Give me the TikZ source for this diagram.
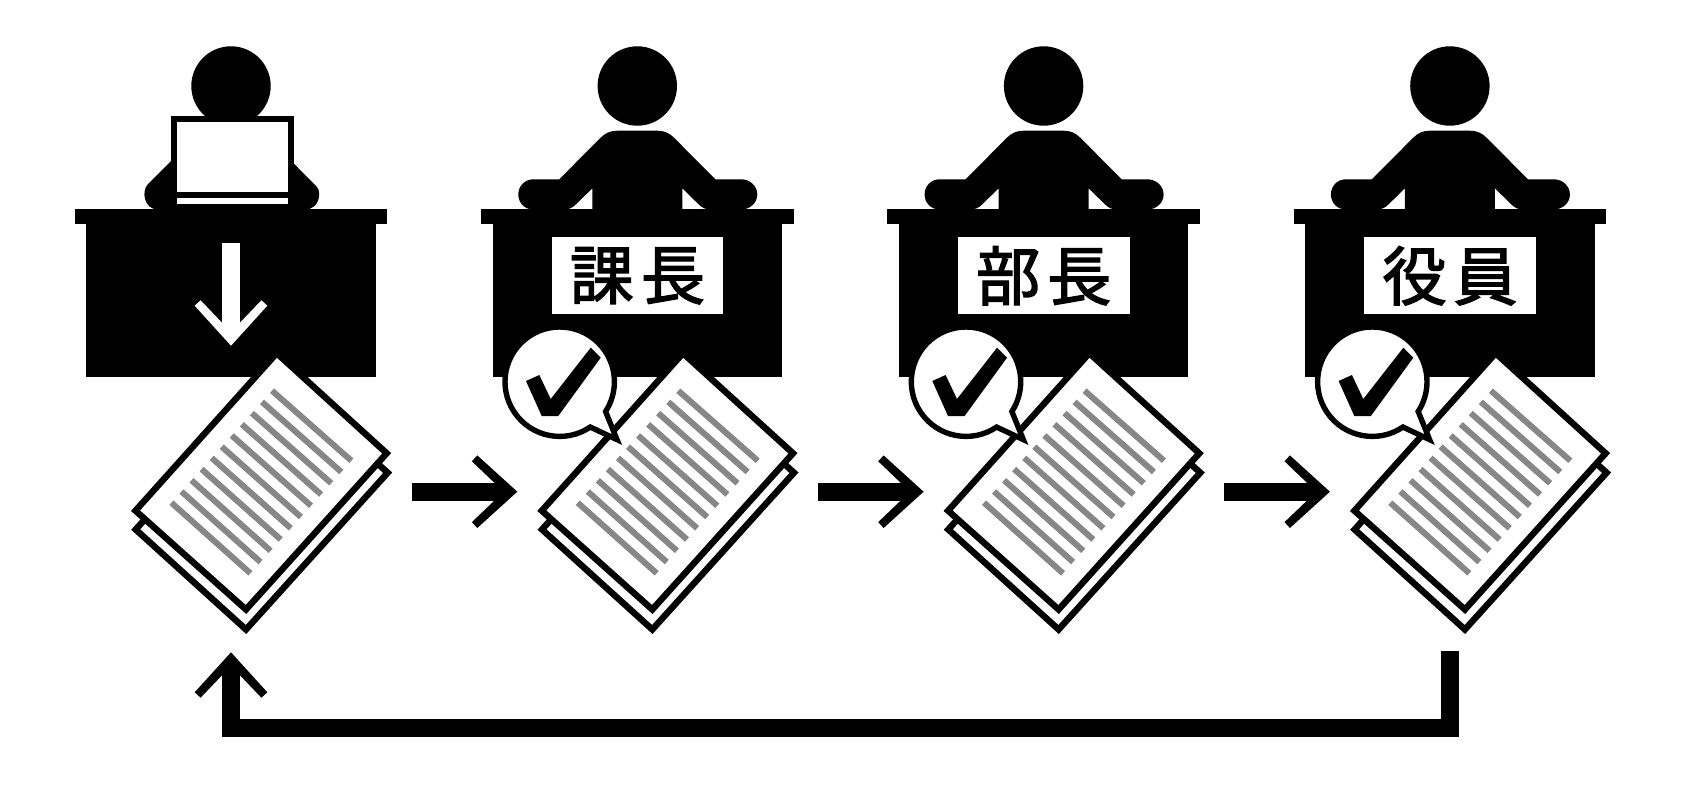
\documentclass[tikz,border=0pt]{standalone}
\usepackage{fontspec}
\newfontfamily\cjk{Noto Sans CJK JP}[FakeBold=2.2]
\tikzset{
  ink/.style={fill=black,draw=none},
  sheet/.style={draw=black,fill=white,line width=6.4pt,miter limit=10,line join=miter},
  textline/.style={draw=black!47,line width=6pt},
  flow/.style={draw=black,line width=18pt,line join=miter,shorten >=15pt},
  head/.style={circle,fill=black,minimum size=79.4pt,inner sep=0pt,outer sep=0pt},
  title/.style={fill=white,minimum width=171.7pt,minimum height=77pt,inner sep=0pt,outer sep=0pt,font=\cjk\fontsize{64}{64}\selectfont,text=black},
  bubble/.style={draw=black,fill=white,line width=5.4pt,miter limit=10,line join=miter},
}
\newcommand{\barbhead}[3]{\fill[#3,shift={(#1)},rotate=#2] (0,0) -- (-40,-36.3) -- (-45.4,-30.4) -- (-23,-9) -- (-23,9) -- (-45.4,30.4) -- (-40,36.3) -- cycle;}
\newcommand{\deskshape}{\fill[ink] (481,209) rectangle (793.7,223.7); \fill[ink] (492.7,223) rectangle (782,376.7);}
\newcommand{\docshape}{%
  \draw[sheet] (542,529.5) -- (683,372.5) -- (794,472.7) -- (652.3,629.5) -- cycle;
  \draw[sheet] (541.8,510.7) -- (683,353.2) -- (793,453.3) -- (652.3,609.5) -- cycle;
  \foreach \k in {0,...,10}{
    \draw[textline] ({678.3-10.06*\k},{390.7+11.2*\k}) -- ({757.7-10.1*\k},{460.7+11.26*\k});
  }}
\begin{document}
\begin{tikzpicture}[x=1pt,y=-1pt]
\useasboundingbox (0,0) rectangle (1685,803);
\fill[white] (0,0) rectangle (1685,803);
% first desk: laptop worker
\begin{scope}[shift={(-406.3,0)}]
  \deskshape
\end{scope}
\node[head] (h1) at (231,86) {};
\fill[ink] (171,161) -- (148,184) .. controls (141,191) and (144,209.5) .. (158,209.5) -- (305,209.5) .. controls (319,209.5) and (322,193) .. (317,187) -- (294.3,164) -- cycle;
\fill[ink] (171,116) rectangle (294.3,209.5);
\fill[white] (177,122.3) rectangle (288.3,191.7);
\fill[white] (177,197.7) rectangle (288.3,204.3);
\coordinate (ds) at (231,243.3);
\coordinate (dt) at (231,345.7);
\draw[flow,draw=white] (ds) -- (dt);
\barbhead{dt}{-90}{white}
% managers
\foreach \i/\dx/\lbl in {2/0/課\hspace{7pt}長,3/406.3/部\hspace{7pt}長,4/812.6/役\hspace{7pt}員}{
  \begin{scope}[shift={(\dx,0)}]
    \deskshape
    \node[head] (h\i) at (637.3,86) {};
    \begin{scope}[shift={(637.3,0)}]
      \fill[ink] (-45,212) -- (-45,188.3) -- (-61,204) .. controls (-65,208) and (-68,209.5) .. (-74,209.5) -- (-104,209.5)
        .. controls (-112.5,209.5) and (-119,203) .. (-119,194.4) .. controls (-119,186) and (-112.5,179.3) .. (-104,179.3)
        -- (-78,179.3) -- (-37,138) .. controls (-32,133) and (-27,130.7) .. (-20,130.7) -- (20,130.7)
        .. controls (27,130.7) and (32,133) .. (37,138) -- (78,179.3) -- (104,179.3)
        .. controls (112.5,179.3) and (120,186) .. (120,194.4) .. controls (120,203) and (112.5,209.5) .. (104,209.5)
        -- (74,209.5) .. controls (68,209.5) and (65,208) .. (61,204) -- (45,188.3) -- (45,212) -- cycle;
    \end{scope}
    \node[title] (t\i) at (637.4,275.8) {\lbl};
  \end{scope}
}
% documents
\foreach \i/\dx in {1/-406.3,2/0,3/406.3,4/812.6}{
  \begin{scope}[shift={(\dx,0)}]
    \docshape
  \end{scope}
}
% check bubbles
\foreach \dx in {0,406.3,812.6}{
  \begin{scope}[shift={(\dx,0)}]
    \draw[bubble] ({559.7+54.7*cos(56)},{381.7+54.7*sin(56)}) arc[start angle=56,end angle=393,radius=54.7] -- (617,439.6) -- cycle;
    \fill[ink] (526,381) -- (539.3,375) -- (550.7,399) -- (590.7,347.7) -- (600.7,357.7) -- (558.3,416) -- (541.7,416) -- cycle;
  \end{scope}
}
% arrows between documents
\foreach \i/\dx in {1/0,2/406.3,3/812.6}{
  \coordinate (as\i) at ({411.7+\dx},491.7);
  \coordinate (at\i) at ({517.3+\dx},491.7);
  \draw[flow] (as\i) -- (at\i);
  \barbhead{at\i}{0}{black}
}
% return arrow
\coordinate (rs) at (1450.2,651.2);
\coordinate (rm) at (231,728.3);
\coordinate (rt) at (231,652.3);
\draw[flow] (rs) |- (rm) -- (rt);
\barbhead{rt}{90}{black}
\end{tikzpicture}
\end{document}
